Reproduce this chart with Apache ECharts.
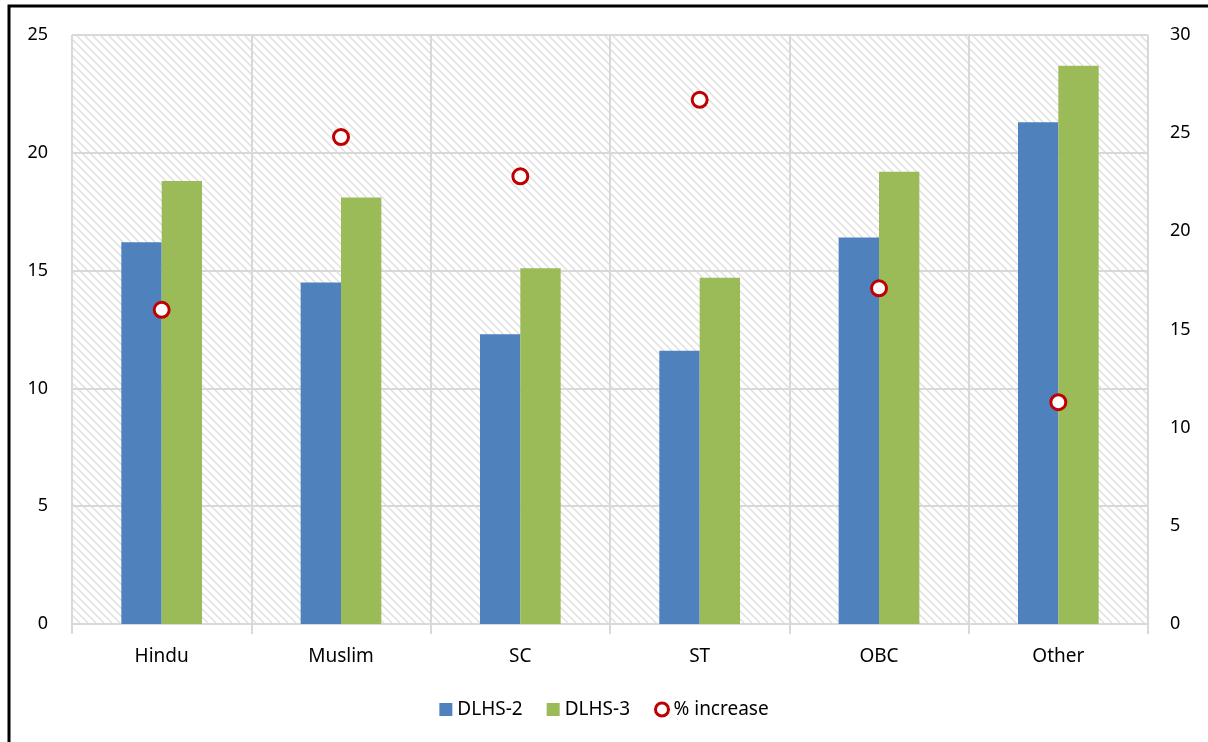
<!DOCTYPE html>
<html>
<head>
<meta charset="UTF-8">
<title>DLHS-2 vs DLHS-3</title>
<script src="https://cdn.jsdelivr.net/npm/echarts@6/dist/echarts.min.js"></script>
<style>
  body { margin: 0; background: #fff; }
</style>
</head>
<body>
<div id="main" style="width:1208px;height:742px;"></div>
<script type="text/javascript">
// data
var categories = ['Hindu', 'Muslim', 'SC', 'ST', 'OBC', 'Other'];
var dlhs2 = [16.2, 14.5, 12.3, 11.6, 16.4, 21.3];
var dlhs3 = [18.8, 18.1, 15.1, 14.7, 19.2, 23.7];
var pctIncrease = [16.0, 24.8, 22.8, 26.7, 17.1, 11.3];
var leftTicks = [0, 5, 10, 15, 20, 25];
var rightTicks = [0, 5, 10, 15, 20, 25, 30];

// diagonal hatch tile for the plot background
var hatch = document.createElement('canvas');
hatch.width = 8; hatch.height = 8;
var hctx = hatch.getContext('2d');
hctx.fillStyle = '#ffffff';
hctx.fillRect(0, 0, 8, 8);
for (var y = 0; y < 8; y++) {
  for (var x = 0; x < 8; x++) {
    var d = ((x - y) % 8 + 8) % 8;
    if (d === 0 || d === 2) { hctx.fillStyle = '#eeeeee'; hctx.fillRect(x, y, 1, 1); }
    if (d === 1) { hctx.fillStyle = '#e0e0e0'; hctx.fillRect(x, y, 1, 1); }
  }
}

var font = '"Noto Sans", sans-serif';
var myChart = echarts.init(document.getElementById('main'));
myChart.setOption({
  backgroundColor: '#ffffff',
  animation: false,
  textStyle: { fontFamily: font, color: '#000' },
  grid: {
    left: 72, right: 60, top: 35, bottom: 118,
    show: true,
    backgroundColor: { image: hatch, repeat: 'repeat' },
    borderWidth: 0
  },
  graphic: [{
    type: 'rect',
    shape: { x: 9, y: 6, width: 1220, height: 760 },
    style: { fill: 'none', stroke: '#000', lineWidth: 3 },
    silent: true
  }],
  legend: {
    top: 695,
    left: 'center',
    itemGap: 24,
    itemWidth: 13,
    itemHeight: 13,
    textStyle: { fontSize: 19, fontFamily: font, color: '#000' },
    data: [
      { name: 'DLHS-2', icon: 'rect' },
      { name: 'DLHS-3', icon: 'rect' },
      { name: '% increase', icon: 'circle', itemStyle: { color: '#fff', borderColor: '#c00000', borderWidth: 3, opacity: 1 } }
    ]
  },
  xAxis: {
    type: 'category',
    data: categories,
    axisLine: { lineStyle: { color: '#d9d9d9', width: 2 } },
    axisTick: { show: true, length: 10, lineStyle: { color: '#d9d9d9', width: 2 } },
    axisLabel: { fontSize: 19, margin: 23, color: '#000' },
    splitLine: { show: true, lineStyle: { color: '#d9d9d9', width: 2 } }
  },
  yAxis: [{
    type: 'value',
    min: 0, max: leftTicks[leftTicks.length - 1], interval: 5,
    axisLine: { show: false },
    axisTick: { show: false },
    axisLabel: { fontSize: 18, margin: 24, color: '#000' },
    splitLine: { show: true, lineStyle: { color: '#d9d9d9', width: 2 } }
  }, {
    type: 'value',
    min: 0, max: rightTicks[rightTicks.length - 1], interval: 5,
    axisLine: { show: false },
    axisTick: { show: false },
    axisLabel: { fontSize: 18, margin: 22, color: '#000' },
    splitLine: { show: false }
  }],
  series: [{
    name: 'DLHS-2',
    type: 'bar',
    data: dlhs2,
    barGap: '0%',
    barCategoryGap: '55%',
    itemStyle: { color: '#4f81bd' }
  }, {
    name: 'DLHS-3',
    type: 'bar',
    data: dlhs3,
    itemStyle: { color: '#9bbb59' }
  }, {
    name: '% increase',
    type: 'scatter',
    yAxisIndex: 1,
    data: pctIncrease,
    symbol: 'circle',
    symbolSize: 15,
    z: 5,
    itemStyle: { color: '#fff', borderColor: '#c00000', borderWidth: 3, opacity: 1 }
  }]
});
</script>
</body>
</html>
